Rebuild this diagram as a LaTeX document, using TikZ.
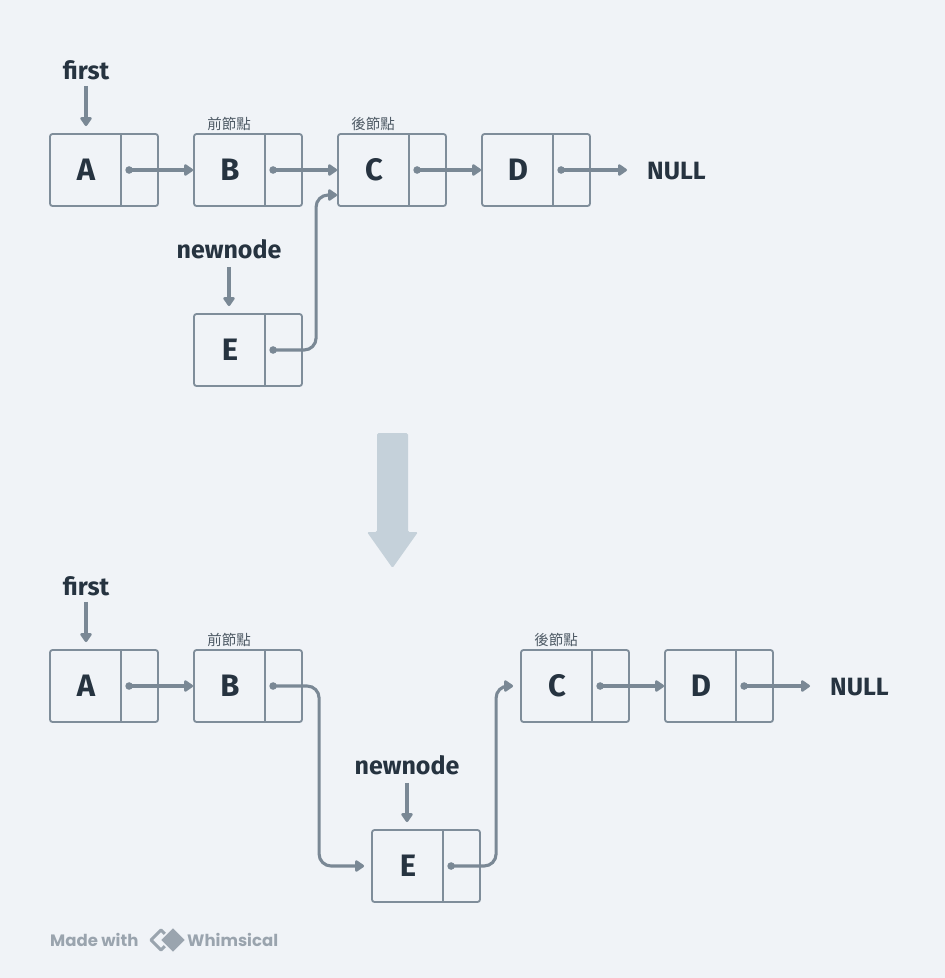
\documentclass[tikz,border=0pt]{standalone}
\usepackage{fontspec}
\setmainfont{Fira Sans}
\newfontfamily\cjk{Noto Sans CJK TC}
\newfontfamily\wfont{Poppins}
\usetikzlibrary{arrows.meta,calc}
\definecolor{bgc}{HTML}{F0F3F7}
\definecolor{boxc}{HTML}{7F8D9A}
\definecolor{arrc}{HTML}{7A8895}
\definecolor{txtc}{HTML}{263340}
\definecolor{subc}{HTML}{4E5A65}
\definecolor{bigc}{HTML}{C5D1DA}
\definecolor{wmc}{HTML}{9AA4AE}
\tikzset{
  lbox/.style={draw=boxc, line width=1.8pt, rounded corners=2.5pt, minimum width=108pt, minimum height=72pt, inner sep=0pt},
  letter/.style={font=\bfseries\fontsize{31}{31}\selectfont, text=txtc, inner sep=0pt},
  lbl/.style={font=\bfseries\fontsize{25}{25}\selectfont, text=txtc, inner sep=0pt},
  cjklbl/.style={font=\cjk\fontsize{14.5}{14.5}\selectfont, text=subc, inner sep=0pt},
  ptr/.style={draw=arrc, line width=3.1pt, -{Triangle[length=10pt,width=13pt,round]}},
  wm/.style={font=\wfont\bfseries\fontsize{16.5}{16.5}\selectfont, text=wmc, inner sep=0pt}
}
\newcommand\mkcell[4]{%
  \node[lbox] (#1) at (#2,#3) {};
  \node[letter] (#1l) at ($(#1.center)+(-18,0)$) {#4};
  \draw[boxc, line width=1.8pt] ($(#1.north west)+(72,0)$) -- ($(#1.south west)+(72,0)$);
  \coordinate (#1p) at ($(#1.west)+(80,0)$);
}
\begin{document}
\begin{tikzpicture}[x=1pt,y=-1pt]
\fill[bgc] (0,0) rectangle (945,978);
\useasboundingbox (0,0) rectangle (945,978);

% ---------- top ----------
\mkcell{tA}{104}{170}{A}
\mkcell{tB}{248}{170}{B}
\mkcell{tC}{392}{170}{C}
\mkcell{tD}{536}{170}{D}
\mkcell{tE}{248}{350}{E}
\node[lbl] (tfirst) at (86,70) {first};
\node[lbl] (tnew) at (229,249) {newnode};
\node[lbl, anchor=west] (tnull) at (647,171) {NULL};
\node[cjklbl] (tprev) at (229,124) {前節點};
\node[cjklbl] (tnext) at (373,124) {後節點};

\draw[ptr, shorten <=6pt, shorten >=7pt] (tfirst.south) -- (tfirst.south |- tA.north);
\draw[ptr, shorten <=8pt, shorten >=7pt] (tnew.south) -- (tnew.south |- tE.north);
\draw[ptr] (tAp) -- (tB.west);
\draw[ptr] (tBp) -- (tC.west);
\draw[ptr] (tCp) -- (tD.west);
\draw[ptr, shorten >=20pt] (tDp) -- (tDp -| tnull.west);
\draw[ptr, rounded corners=12pt] (tEp) -| ($(tC.west)+(-21,25)$) -- ($(tC.west)+(0,25)$);
\foreach \n in {tAp,tBp,tCp,tDp,tEp} \fill[arrc] (\n) circle (3.8pt);

% ---------- big arrow ----------
\fill[bigc, rounded corners=1.5pt] (377,433) -- (408,433) -- (408,532) -- (418,532) -- (392.5,568) -- (367,532) -- (377,532) -- cycle;

% ---------- bottom ----------
\mkcell{bA}{104}{686}{A}
\mkcell{bB}{248}{686}{B}
\mkcell{bC}{575}{686}{C}
\mkcell{bD}{719}{686}{D}
\mkcell{bE}{426}{866}{E}
\node[lbl] (bfirst) at (86,586) {first};
\node[lbl] (bnew) at (407,765) {newnode};
\node[lbl, anchor=west] (bnull) at (830,687) {NULL};
\node[cjklbl] (bprev) at (229,640) {前節點};
\node[cjklbl] (bnext) at (556,640) {後節點};

\draw[ptr, shorten <=6pt, shorten >=7pt] (bfirst.south) -- (bfirst.south |- bA.north);
\draw[ptr, shorten <=8pt, shorten >=7pt] (bnew.south) -- (bnew.south |- bE.north);
\draw[ptr] (bAp) -- (bB.west);
\draw[ptr, rounded corners=12pt, shorten >=7pt] (bBp) -| ($(bE.west)+(-52,0)$) -- (bE.west);
\draw[ptr, rounded corners=12pt, shorten >=7pt] (bEp) -| ($(bC.west)+(-24,0)$) -- (bC.west);
\draw[ptr] (bCp) -- (bD.west);
\draw[ptr, shorten >=20pt] (bDp) -- (bDp -| bnull.west);
\foreach \n in {bAp,bBp,bCp,bDp,bEp} \fill[arrc] (\n) circle (3.8pt);

% ---------- watermark ----------
\node[wm, anchor=west] (made) at (50,940) {Made with};
\draw[wmc, line width=3pt, line join=round] (161,930) -- (151,940) -- (161,950) -- (171,940) -- cycle;
\filldraw[fill=wmc, draw=bgc, line width=1.5pt, line join=round] (173,927) -- (186,940) -- (173,953) -- (160,940) -- cycle;
\node[wm, anchor=west] (whim) at (187,940) {Whimsical};
\end{tikzpicture}
\end{document}
